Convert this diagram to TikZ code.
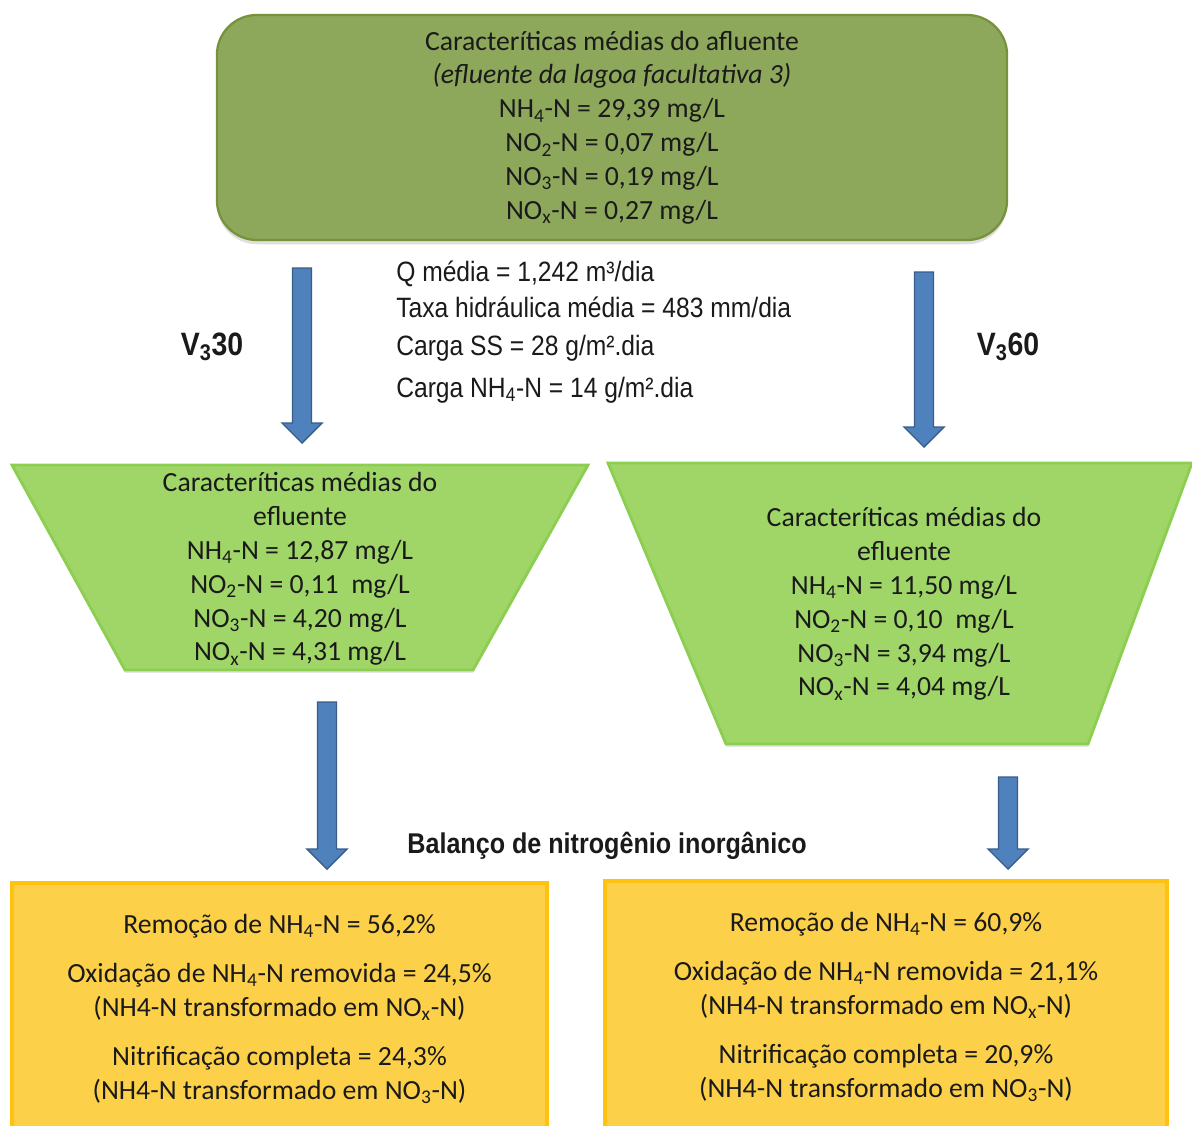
\documentclass[tikz,border=0pt]{standalone}
\usepackage{fontspec}
\setmainfont{Carlito}
\newfontfamily\arialfont[FakeStretch=0.88]{Liberation Sans}
\usetikzlibrary{calc,shadows}
\definecolor{olive}{HTML}{8DA75B}
\definecolor{oliveline}{HTML}{76923C}
\definecolor{lime}{HTML}{A0D568}
\definecolor{limeline}{HTML}{8CCF50}
\definecolor{gold}{HTML}{FDD049}
\definecolor{goldline}{HTML}{FFC20E}
\definecolor{arrowfill}{HTML}{4F81BD}
\definecolor{arrowline}{HTML}{385D8A}
\definecolor{ink}{HTML}{1A1A1A}
\tikzset{
  calib/.style={font=\fontsize{19.7}{24.1}\selectfont, text=ink, align=center, inner sep=0pt},
  arial/.style={font=\arialfont\fontsize{19.9}{23.4}\selectfont, text=ink, inner sep=0pt},
  arialb/.style={arial, font=\arialfont\bfseries\fontsize{20.3}{24}\selectfont},
  vlabel/.style={arial, font=\arialfont\bfseries\fontsize{23}{27}\selectfont},
  topbox/.style={calib, draw=oliveline, line width=1.6pt, fill=olive, rounded corners=1cm,
                 minimum width=19.75cm, minimum height=5.625cm,
                 drop shadow={opacity=0.25, shadow xshift=0pt, shadow yshift=-3pt}},
  trap/.style={draw=limeline, line width=2pt, fill=lime,
               drop shadow={opacity=0.2, shadow xshift=0pt, shadow yshift=-2pt}},
  resbox/.style={calib, draw=goldline, line width=2.6pt, fill=gold},
  % ---- block arrow drawn between two points ----
  barrow/.style={fill=arrowfill, draw=arrowline, line width=1pt,
    to path={let \p1=(\tikztostart), \p2=(\tikztotarget) in
      (\x1-0.2375cm,\y1) -- (\x1-0.2375cm,\y2+0.5cm) -- (\x1-0.5cm,\y2+0.5cm) -- (\x2,\y2)
      -- (\x1+0.5cm,\y2+0.5cm) -- (\x1+0.2375cm,\y2+0.5cm) -- (\x1+0.2375cm,\y1) -- cycle}},
}

\begin{document}
\begin{tikzpicture}[x=0.025cm, y=-0.025cm]
\useasboundingbox (0,0) rectangle (1192,1126);
\fill[white] (0,0) rectangle (1192,1126);
% ---- afluente ----
\node[topbox] (afl) at (612,127.5) {Caracteríticas médias do afluente\\
  \textit{(efluente da lagoa facultativa 3)}\\
  NH\textsubscript{4}-N = 29,39 mg/L\\
  NO\textsubscript{2}-N = 0,07 mg/L\\
  NO\textsubscript{3}-N = 0,19 mg/L\\
  NO\textsubscript{x}-N = 0,27 mg/L};
% ---- dados operacionais ----
\node[arial, anchor=west] (qmed)  at (396,274) {Q média = 1,242 m³/dia};
\node[arial, anchor=west] (taxa)  at (396,307) {Taxa hidráulica média = 483 mm/dia};
\node[arial, anchor=west] (cgss)  at (396,348) {Carga SS = 28 g/m².dia};
\node[arial, anchor=west] (cgnh)  at (396,390) {Carga NH\textsubscript{4}-N = 14 g/m².dia};
\node[vlabel] (v30) at (212,347) {V\textsubscript{3}30};
\node[vlabel] (v60) at (1008,347) {V\textsubscript{3}60};
% ---- efluentes ----
\draw[trap] (12,465) -- (588,465) -- (473,670) -- (125,670) -- cycle;
\draw[trap] (608,463) -- (1192,463) -- (1088,744) -- (726,744) -- cycle;
\node[calib] (effL) at (300,569) {Caracteríticas médias do\\ efluente\\
  NH\textsubscript{4}-N = 12,87 mg/L\\
  NO\textsubscript{2}-N = 0,11 \ mg/L\\
  NO\textsubscript{3}-N = 4,20 mg/L\\
  NO\textsubscript{x}-N = 4,31 mg/L};
\node[calib] (effR) at (904,604) {Caracteríticas médias do\\ efluente\\
  NH\textsubscript{4}-N = 11,50 mg/L\\
  NO\textsubscript{2}-N = 0,10 \ mg/L\\
  NO\textsubscript{3}-N = 3,94 mg/L\\
  NO\textsubscript{x}-N = 4,04 mg/L};
% ---- balanço ----
\node[arialb] (bal) at (607,846) {Balanço de nitrogênio inorgânico};
\node[resbox, minimum width=13.375cm, minimum height=6.3cm] (resL) at (279.5,1009) {%
  Remoção de NH\textsubscript{4}-N = 56,2\%\\[11pt]
  Oxidação de NH\textsubscript{4}-N removida = 24,5\%\\
  (NH4-N transformado em NO\textsubscript{x}-N)\\[11pt]
  Nitrificação completa = 24,3\%\\
  (NH4-N transformado em NO\textsubscript{3}-N)};
\node[resbox, minimum width=14.05cm, minimum height=6.3cm] (resR) at (886,1007) {%
  Remoção de NH\textsubscript{4}-N = 60,9\%\\[11pt]
  Oxidação de NH\textsubscript{4}-N removida = 21,1\%\\
  (NH4-N transformado em NO\textsubscript{x}-N)\\[11pt]
  Nitrificação completa = 20,9\%\\
  (NH4-N transformado em NO\textsubscript{3}-N)};
% ---- setas ----
\coordinate (a1s) at (302,268);  \coordinate (a1e) at (302,443);
\coordinate (a2s) at (924,272);  \coordinate (a2e) at (924,447);
\coordinate (a3s) at (327,702);  \coordinate (a3e) at (327,869);
\coordinate (a4s) at (1008,777); \coordinate (a4e) at (1008,869);
\foreach \s in {1,...,4}
  \draw[barrow] (a\s s) to (a\s e);
\end{tikzpicture}
\end{document}
